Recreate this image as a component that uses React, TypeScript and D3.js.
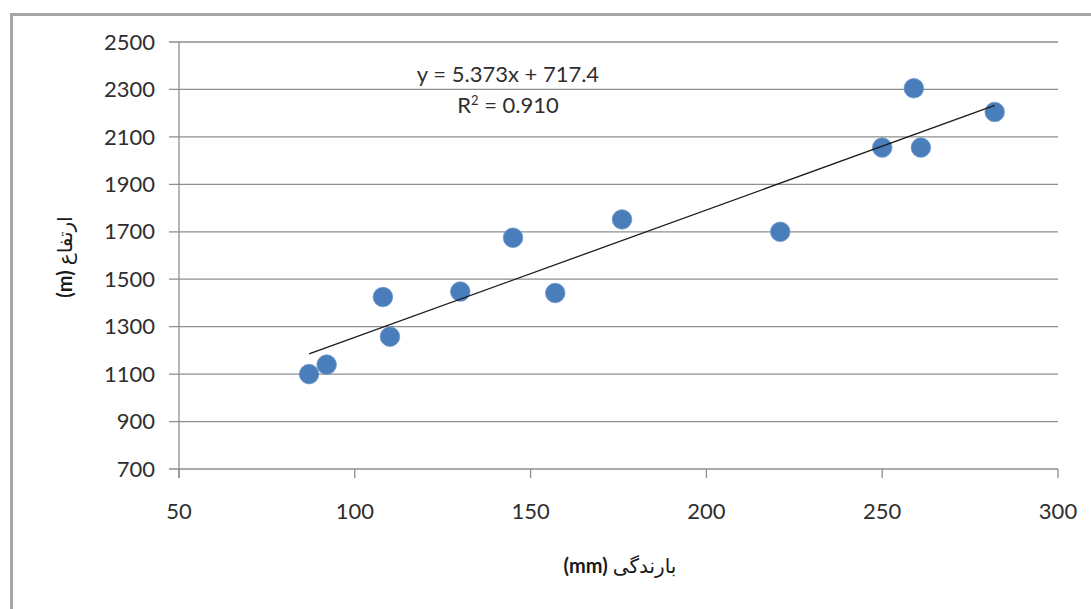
import { scaleLinear, line } from "d3";

const W = 1091;
const H = 609;

// rainfall (mm) vs elevation (m)
const rainfall = [87, 92, 108, 110, 130, 145, 157, 176, 221, 250, 259, 261, 282];
const elevation = [1100, 1140, 1425, 1258, 1448, 1675, 1442, 1752, 1700, 2055, 2305, 2055, 2205];

const xTicks = [50, 100, 150, 200, 250, 300];
const yTicks = [700, 900, 1100, 1300, 1500, 1700, 1900, 2100, 2300, 2500];

const slope = 5.373;
const intercept = 717.4;
const equationText = "y = 5.373x + 717.4";

const xUnit = "(mm)";
const xName = " بارندگی";
const yUnit = "(m)";
const yName = " ارتفاع";

const FONT = "Lato, 'DejaVu Sans', sans-serif";
const GRID = "#8e8e8e";

export default function App() {
  const x = scaleLinear().domain([50, 300]).range([179, 1058]);
  const y = scaleLinear().domain([700, 2500]).range([469, 42]);

  const xMin = Math.min(...rainfall);
  const xMax = Math.max(...rainfall);
  const trend = line<number>()
    .x((d) => x(d))
    .y((d) => y(slope * d + intercept))([xMin, xMax]);

  return (
    <svg width={W} height={H} style={{ position: "absolute", left: 0, top: 0, background: "#fff" }}>
      <path d={`M11.5,${H} V14.5 H${W}`} fill="none" stroke="#a6a6a6" strokeWidth={3} />

      {yTicks.map((t) => (
        <g key={t}>
          <line x1={169} x2={1058} y1={y(t)} y2={y(t)} stroke={GRID} strokeWidth={1.3} />
          <text x={155} y={y(t)} dy="0.35em" textAnchor="end" fontFamily={FONT} fontSize={22} fill="#2e2e2e">
            {t}
          </text>
        </g>
      ))}

      <line x1={x(50)} x2={x(50)} y1={y(2500)} y2={y(700) + 9} stroke={GRID} strokeWidth={1.3} />
      {xTicks.map((t) => (
        <g key={t}>
          <line x1={x(t)} x2={x(t)} y1={y(700)} y2={y(700) + 9} stroke={GRID} strokeWidth={1.3} />
          <text x={x(t)} y={511} dy="0.35em" textAnchor="middle" fontFamily={FONT} fontSize={22} fill="#2e2e2e">
            {t}
          </text>
        </g>
      ))}

      {rainfall.map((r, i) => (
        <circle key={i} cx={x(r)} cy={y(elevation[i])} r={9.8} fill="#4a7ebb" stroke="#6f98cc" strokeWidth={0.8} />
      ))}

      {trend ? <path d={trend} fill="none" stroke="#1a1a1a" strokeWidth={1.3} /> : null}

      <text x={508} y={82} textAnchor="middle" fontFamily={FONT} fontSize={22} fill="#2e2e2e">
        {equationText}
      </text>
      <text x={508} y={113} textAnchor="middle" fontFamily={FONT} fontSize={22} fill="#2e2e2e">
        R<tspan dy={-8} fontSize={13}>2</tspan>
        <tspan dy={8}> = 0.910</tspan>
      </text>

      <text x={620} y={573} textAnchor="middle" fontFamily={FONT} fontSize={20} fill="#1a1a1a">
        <tspan fontWeight="bold">{xUnit}</tspan>
        <tspan>{xName}</tspan>
      </text>
      <text transform="translate(72,257) rotate(-90)" textAnchor="middle" fontFamily={FONT} fontSize={20} fill="#1a1a1a">
        <tspan fontWeight="bold">{yUnit}</tspan>
        <tspan>{yName}</tspan>
      </text>
    </svg>
  );
}
